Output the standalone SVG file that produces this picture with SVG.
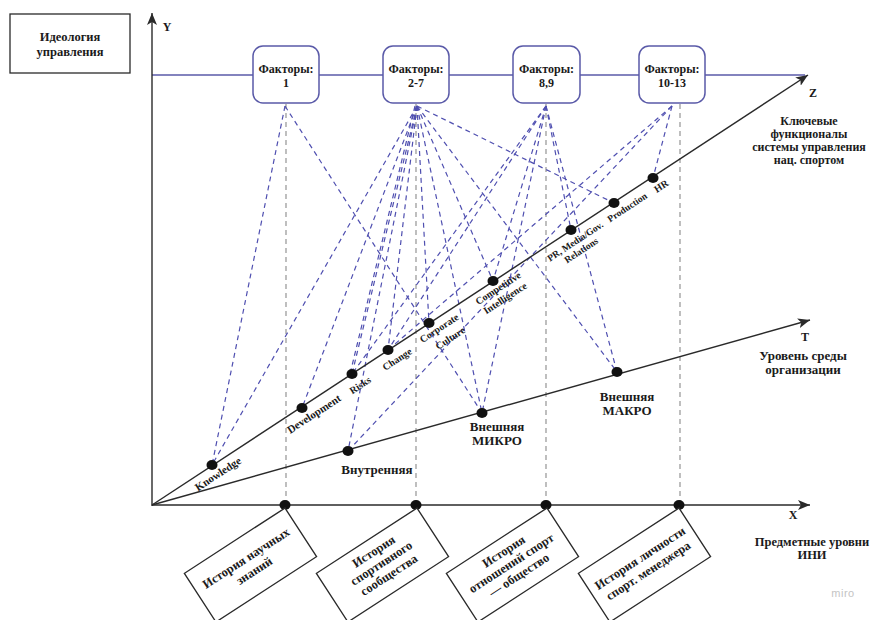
<svg xmlns="http://www.w3.org/2000/svg" width="878" height="620" viewBox="0 0 878 620">
<style>
text{font-family:"Liberation Serif","Times New Roman",serif;font-weight:bold;fill:#1a1a1a;}
.t10{font-size:10px;}
.t95{font-size:9.5px;}
.t11{font-size:11px;}
.t12{font-size:12px;}
.t125{font-size:12.5px;}
.t13{font-size:13px;}
.ax{stroke:#2a2a2a;stroke-width:1.4;fill:none;}
.hl{stroke:#5a5aa8;stroke-width:1.5;fill:none;}
.fb{fill:#fff;stroke:#5a5aa8;stroke-width:1.5;}
.bx{fill:#fff;stroke:#2a2a2a;stroke-width:1.3;}
.dl{stroke:#4f4fb0;stroke-width:1.2;stroke-dasharray:5 4;fill:none;}
.gl{stroke:#8a8a8a;stroke-width:1.1;stroke-dasharray:5 4;fill:none;}
.pt{fill:#111;}
</style>
<defs>
<marker id="arr" markerUnits="userSpaceOnUse" markerWidth="12" markerHeight="10" refX="12" refY="5" orient="auto">
<path d="M0,0 L12,5 L0,10 L3,5 z" fill="#2a2a2a"/>
</marker>
</defs>
<rect width="878" height="620" fill="#fff"/>

<g id="connectors">
<line class="gl" x1="286" y1="104" x2="286" y2="505"/>
<line class="gl" x1="416" y1="104" x2="416" y2="505"/>
<line class="gl" x1="546" y1="104" x2="546" y2="505"/>
<line class="gl" x1="680" y1="104" x2="680" y2="505"/>
<line class="dl" x1="285" y1="106" x2="212" y2="465"/>
<line class="dl" x1="285" y1="106" x2="482" y2="413"/>
<line class="dl" x1="417" y1="106" x2="212" y2="465"/>
<line class="dl" x1="417" y1="106" x2="302" y2="408"/>
<line class="dl" x1="417" y1="106" x2="352" y2="374"/>
<line class="dl" x1="415" y1="106" x2="350" y2="374"/>
<line class="dl" x1="417" y1="106" x2="348" y2="451"/>
<line class="dl" x1="417" y1="106" x2="388" y2="350"/>
<line class="dl" x1="417" y1="106" x2="429" y2="323"/>
<line class="dl" x1="417" y1="106" x2="482" y2="413"/>
<line class="dl" x1="417" y1="106" x2="493" y2="281"/>
<line class="dl" x1="417" y1="106" x2="617" y2="372"/>
<line class="dl" x1="417" y1="106" x2="614" y2="203"/>
<line class="dl" x1="546" y1="106" x2="352" y2="374"/>
<line class="dl" x1="546" y1="106" x2="388" y2="350"/>
<line class="dl" x1="546" y1="106" x2="493" y2="281"/>
<line class="dl" x1="546" y1="106" x2="482" y2="413"/>
<line class="dl" x1="546" y1="106" x2="571" y2="230"/>
<line class="dl" x1="546" y1="106" x2="617" y2="372"/>
<line class="dl" x1="672" y1="106" x2="388" y2="350"/>
<line class="dl" x1="672" y1="106" x2="348" y2="451"/>
<line class="dl" x1="672" y1="106" x2="653" y2="178"/>
<line class="hl" x1="152" y1="75" x2="805" y2="75"/>
<line class="ax" x1="152" y1="506" x2="152" y2="13" marker-end="url(#arr)"/>
<line class="ax" x1="152" y1="505" x2="810" y2="505" stroke-width="1.8" marker-end="url(#arr)"/>
<line class="ax" x1="152" y1="505" x2="808" y2="75" stroke-width="1.2" marker-end="url(#arr)"/>
<line class="ax" x1="152" y1="505" x2="810" y2="320" stroke-width="1.2" marker-end="url(#arr)"/>
</g>

<g id="ideology">
<rect class="bx" x="10" y="14" width="120" height="59"/>
<text class="t125" x="70" y="41" text-anchor="middle">Идеология</text>
<text class="t125" x="70" y="56" text-anchor="middle">управления</text>
</g>

<g id="factor1">
<rect class="fb" x="253" y="46" width="66" height="57" rx="10"/>
<text class="t12" x="286" y="73" text-anchor="middle">Факторы:</text>
<text class="t12" x="286" y="87" text-anchor="middle">1</text>
</g>
<g id="factor2">
<rect class="fb" x="383" y="46" width="66" height="57" rx="10"/>
<text class="t12" x="416" y="73" text-anchor="middle">Факторы:</text>
<text class="t12" x="416" y="87" text-anchor="middle">2-7</text>
</g>
<g id="factor3">
<rect class="fb" x="513" y="46" width="67" height="57" rx="10"/>
<text class="t12" x="546.5" y="73" text-anchor="middle">Факторы:</text>
<text class="t12" x="546.5" y="87" text-anchor="middle">8,9</text>
</g>
<g id="factor4">
<rect class="fb" x="639" y="46" width="66" height="57" rx="10"/>
<text class="t12" x="672" y="73" text-anchor="middle">Факторы:</text>
<text class="t12" x="672" y="87" text-anchor="middle">10-13</text>
</g>

<g id="axis-labels">
<text class="t12" x="167" y="31" text-anchor="middle">Y</text>
<text class="t12" x="813" y="97" text-anchor="middle">Z</text>
<text class="t12" x="805" y="341" text-anchor="middle">T</text>
<text class="t12" x="793" y="519" text-anchor="middle">X</text>
<text class="t12" x="809" y="125" text-anchor="middle">Ключевые</text>
<text class="t12" x="809" y="138" text-anchor="middle">функционалы</text>
<text class="t12" x="809" y="151" text-anchor="middle">системы управления</text>
<text class="t12" x="809" y="164" text-anchor="middle">нац. спортом</text>
<text class="t13" x="803" y="360" text-anchor="middle">Уровень среды</text>
<text class="t13" x="803" y="374" text-anchor="middle">организации</text>
<text class="t125" x="812" y="546" text-anchor="middle">Предметные уровни</text>
<text class="t125" x="812" y="559" text-anchor="middle">ИНИ</text>
</g>

<g id="z-points">
<ellipse class="pt" cx="212" cy="465" rx="5.5" ry="5"/>
<ellipse class="pt" cx="302" cy="408" rx="5.5" ry="5"/>
<ellipse class="pt" cx="352" cy="374" rx="5.5" ry="5"/>
<ellipse class="pt" cx="388" cy="350" rx="5.5" ry="5"/>
<ellipse class="pt" cx="429" cy="323" rx="5.5" ry="5"/>
<ellipse class="pt" cx="493" cy="281" rx="5.5" ry="5"/>
<ellipse class="pt" cx="571" cy="230" rx="5.5" ry="5"/>
<ellipse class="pt" cx="614" cy="203" rx="5.5" ry="5"/>
<ellipse class="pt" cx="653" cy="178" rx="5.5" ry="5"/>
</g>
<g id="z-labels">
<text class="t11" text-anchor="middle" transform="translate(220,477) rotate(-33.2)">Knowledge</text>
<text class="t11" text-anchor="middle" transform="translate(316,417) rotate(-33.2)">Development</text>
<text class="t10" text-anchor="middle" transform="translate(362,388) rotate(-33.2)">Risks</text>
<text class="t10" text-anchor="middle" transform="translate(399,362) rotate(-33.2)">Change</text>
<text class="t10" text-anchor="middle" transform="translate(441,331) rotate(-33.2)">Corporate</text>
<text class="t10" text-anchor="middle" transform="translate(452,341) rotate(-33.2)">Culture</text>
<text class="t10" text-anchor="middle" transform="translate(500,291) rotate(-33.2)">Competitive</text>
<text class="t10" text-anchor="middle" transform="translate(507,301) rotate(-33.2)">Intelligence</text>
<text class="t95" text-anchor="middle" transform="translate(577,244) rotate(-33.2)">PR, Media/Gov.</text>
<text class="t95" text-anchor="middle" transform="translate(583,253) rotate(-33.2)">Relations</text>
<text class="t95" text-anchor="middle" transform="translate(629,210) rotate(-33.2)">Production</text>
<text class="t10" text-anchor="middle" transform="translate(663,189) rotate(-33.2)">HR</text>
</g>

<g id="t-points">
<ellipse class="pt" cx="348" cy="451" rx="5.5" ry="5"/>
<ellipse class="pt" cx="482" cy="413" rx="5.5" ry="5"/>
<ellipse class="pt" cx="617" cy="372" rx="5.5" ry="5"/>
<text class="t13" x="377" y="474" text-anchor="middle">Внутренняя</text>
<text class="t13" x="497" y="431" text-anchor="middle">Внешняя</text>
<text class="t13" x="497" y="445" text-anchor="middle">МИКРО</text>
<text class="t13" x="627" y="401" text-anchor="middle">Внешняя</text>
<text class="t13" x="627" y="415" text-anchor="middle">МАКРО</text>
</g>

<g id="x-points">
<ellipse class="pt" cx="285" cy="505" rx="5.5" ry="5"/>
<ellipse class="pt" cx="416" cy="505" rx="5.5" ry="5"/>
<ellipse class="pt" cx="546" cy="505" rx="5.5" ry="5"/>
<ellipse class="pt" cx="679" cy="505" rx="5.5" ry="5"/>
</g>

<g id="hist1" transform="translate(285,508) rotate(-33)">
<rect class="bx" x="-120" y="0" width="120" height="58"/>
<text class="t125" x="-60" y="25" text-anchor="middle">История научных</text>
<text class="t125" x="-60" y="40" text-anchor="middle">знаний</text>
</g>
<g id="hist2" transform="translate(417,508) rotate(-33)">
<rect class="bx" x="-120" y="0" width="120" height="58"/>
<text class="t125" x="-60" y="17" text-anchor="middle">История</text>
<text class="t125" x="-60" y="31" text-anchor="middle">спортивного</text>
<text class="t125" x="-60" y="45" text-anchor="middle">сообщества</text>
</g>
<g id="hist3" transform="translate(547,508) rotate(-33)">
<rect class="bx" x="-120" y="0" width="120" height="58"/>
<text class="t125" x="-60" y="17" text-anchor="middle">История</text>
<text class="t125" x="-60" y="31" text-anchor="middle">отношений спорт</text>
<text class="t125" x="-60" y="45" text-anchor="middle">— общество</text>
</g>
<g id="hist4" transform="translate(679,508) rotate(-33)">
<rect class="bx" x="-120" y="0" width="120" height="58"/>
<text class="t125" x="-60" y="25" text-anchor="middle">История личности</text>
<text class="t125" x="-60" y="40" text-anchor="middle">спорт. менеджера</text>
</g>

<text x="843" y="597" text-anchor="middle" style="font-family:'Liberation Sans',Arial,sans-serif;font-weight:normal;font-size:11px;fill:#c4c4c4;letter-spacing:0.5px">miro</text>
</svg>
